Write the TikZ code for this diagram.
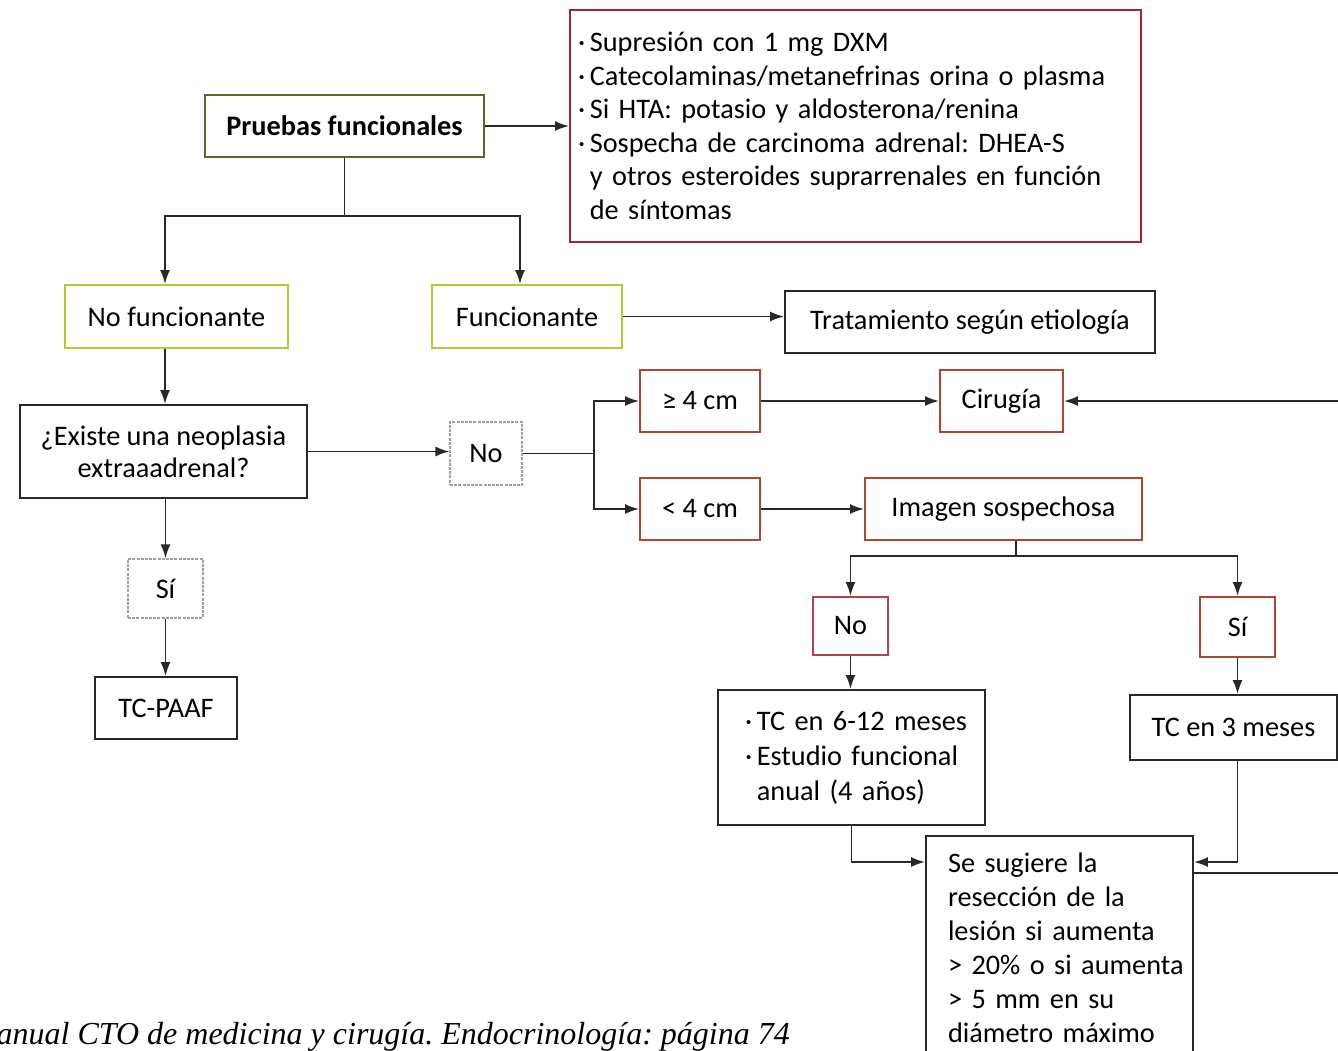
\documentclass[tikz,border=0pt]{standalone}
\usepackage{fontspec}
\setmainfont{Carlito}
\newfontfamily\capfont{Liberation Serif}
\usetikzlibrary{arrows.meta,calc}
\frenchspacing

\definecolor{linegray}{RGB}{40,40,40}
\definecolor{boxred}{RGB}{165,35,50}
\definecolor{boxrust}{RGB}{175,70,50}
\definecolor{boxlime}{RGB}{185,200,50}
\definecolor{boxolive}{RGB}{95,100,45}

\begin{document}
\begin{tikzpicture}[x=1pt,y=-1pt,
  every node/.style={font=\fontsize{28.3}{33.5}\selectfont, text=black, inner sep=0pt},
  box/.style={draw=linegray, line width=1.9pt},
  softbox/.style={draw=gray!75, line width=1.2pt, dash pattern=on 3pt off 1.2pt},
  link/.style={draw=linegray, line width=1.9pt},
  arr/.style={link, -{Latex[length=14pt,width=10pt]}},
]
\useasboundingbox (0,0) rectangle (1338,1050);
\fill[white] (0,0) rectangle (1338,1050);
\clip (0,0) rectangle (1338,1050);

% upper part
\node[box, draw=boxolive, minimum width=279, minimum height=62,
      font=\fontsize{28.3}{33.5}\selectfont\bfseries] (pf) at (344.5,126) {Pruebas funcionales};
\node[box, draw=boxred, minimum width=571, minimum height=232,
      text width=555, inner xsep=8, align=left] (tests) at (855.5,126)
  {\mbox{·\,Supresión con 1 mg DXM}\\
   \mbox{·\,Catecolaminas/metanefrinas orina o plasma}\\
   \mbox{·\,Si HTA: potasio y aldosterona/renina}\\
   \mbox{·\,Sospecha de carcinoma adrenal: DHEA-S}\\
   \mbox{\hphantom{·\,}y otros esteroides suprarrenales en función}\\
   \mbox{\hphantom{·\,}de síntomas}};

\node[box, draw=boxlime, minimum width=223, minimum height=63] (nf) at (176.5,316.5) {No funcionante};
\node[box, draw=boxlime, minimum width=190, minimum height=63] (fu) at (527,316.5) {Funcionante};
\node[box, minimum width=370, minimum height=62] (tr) at (970,322) {Tratamiento según etiología};

% left branch
\node[box, minimum width=287, minimum height=93, align=center,
      font=\fontsize{28.3}{32}\selectfont] (ex) at (163.5,451.5) {¿Existe una neoplasia\\extraaadrenal?};
\node[softbox, minimum width=75, minimum height=59] (si1) at (165.5,588.5) {Sí};
\node[box, minimum width=142, minimum height=62] (tcp) at (166,708) {TC-PAAF};

% size branch
\node[softbox, minimum width=72, minimum height=63] (no1) at (486,453.5) {No};
\node[box, draw=boxrust, minimum width=120, minimum height=62] (ge4) at (700,401) {≥ 4 cm};
\node[box, draw=boxrust, minimum width=120, minimum height=62] (lt4) at (700,509) {< 4 cm};
\node[box, draw=boxrust, minimum width=123, minimum height=62] (cir) at (1001.5,401) {Cirugía};
\node[box, draw=boxrust, minimum width=277, minimum height=62] (img) at (1003.5,509) {Imagen sospechosa};

% follow-up
\node[box, draw=boxred!85, minimum width=75, minimum height=58] (no2) at (850.5,626) {No};
\node[box, draw=boxrust, minimum width=75, minimum height=60] (si2) at (1237.5,627) {Sí};
\node[box, minimum width=267, minimum height=135, text width=213, inner xsep=27,
      align=left, font=\fontsize{28.3}{35}\selectfont] (tc612) at (851.5,757.5)
  {\mbox{·\,TC en 6-12 meses}\\
   \mbox{·\,Estudio funcional}\\
   \mbox{\hphantom{·\,}anual (4 años)}};
\node[box, minimum width=207, minimum height=65] (tc3) at (1233.5,727.5) {TC en 3 meses};
\node[box, minimum width=267, minimum height=224, text width=223, inner xsep=22,
      align=left, font=\fontsize{28.3}{34}\selectfont] (sug) at (1059.5,948)
  {\mbox{Se sugiere la}\\
   \mbox{resección de la}\\
   \mbox{lesión si aumenta}\\
   \mbox{> 20\% o si aumenta}\\
   \mbox{> 5 mm en su}\\
   \mbox{diámetro máximo}};

% connectors
\draw[arr] (pf.east) -- (tests.west);
\draw[arr] (pf.south) -- ++(0,58) -| ([xshift=-11.5]nf.north);
\draw[arr] (pf.south) -- ++(0,58) -| ([xshift=-7]fu.north);
\draw[arr] (fu.east) -- (fu.east -| tr.west);
\draw[arr] ([xshift=-11.5]nf.south) -- ([xshift=-11.5]nf.south |- ex.north);
\draw[arr] (ex.south -| si1.north) -- (si1.north);
\draw[arr] (si1.south) -- (si1.south |- tcp.north);
\draw[arr] (ex.east) -- (ex.east -| no1.west);
\draw[link] (no1.east) -- ++(71,0) coordinate (split);
\draw[arr] (split) |- (ge4.west);
\draw[arr] (split) |- (lt4.west);
\draw[arr] (ge4.east) -- (cir.west);
\draw[arr] (lt4.east) -- (img.west);
\draw[arr] ([xshift=12.5]img.south) -- ++(0,15) -| (no2.north);
\draw[arr] ([xshift=12.5]img.south) -- ++(0,15) -| (si2.north);
\draw[arr] (no2.south) -- (no2.south |- tc612.north);
\draw[arr] (si2.south) -- (si2.south |- tc3.north);
\draw[arr] (tc612.south) |- ([yshift=86]sug.west);
\draw[arr] (si2.south |- tc3.south) |- ([yshift=86]sug.east);
\draw[arr] ([yshift=75]sug.east) -- ++(200,0) |- (cir.east);

% source line
\node[anchor=base east, text=black, font=\capfont\itshape\fontsize{32}{38}\selectfont] (src)
  at (790,1044) {Manual CTO de medicina y cirugía. Endocrinología: página 74};
\end{tikzpicture}
\end{document}
